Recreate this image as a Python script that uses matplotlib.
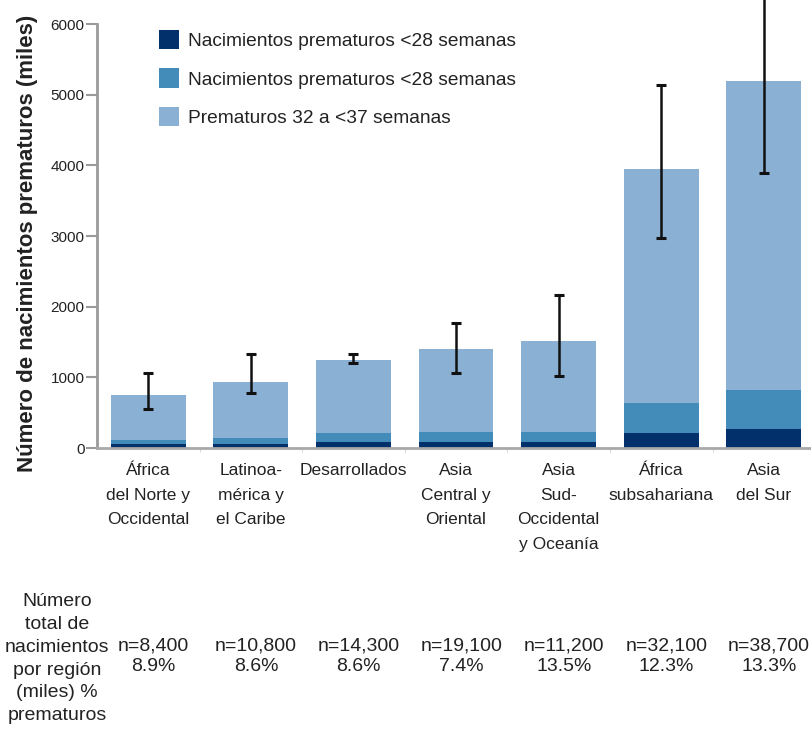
import numpy as np
import matplotlib
matplotlib.use("Agg")
import matplotlib.pyplot as plt
import matplotlib.transforms as mtransforms
from matplotlib.patches import Patch

plt.rcParams["font.family"] = ["Liberation Sans", "DejaVu Sans"]

# regions (x axis)
regiones = [
    "África\ndel Norte y\nOccidental",
    "Latinoa-\nmérica y\nel Caribe",
    "Desarrollados",
    "Asia\nCentral y\nOriental",
    "Asia\nSud-\nOccidental\ny Oceanía",
    "África\nsubsahariana",
    "Asia\ndel Sur",
]

# preterm births per region (thousands), by gestational age band
menos_28 = [55, 60, 85, 85, 85, 208, 265]
de_28_a_32 = [58, 86, 123, 146, 146, 424, 555]
de_32_a_37 = [642, 792, 1037, 1169, 1289, 3323, 4370]

# uncertainty range of the total
rango_bajo = [545, 780, 1200, 1057, 1023, 2975, 3895]
rango_alto = [1055, 1330, 1330, 1765, 2170, 5137, 6500]

# totals row under the chart
n_total = ["8,400", "10,800", "14,300", "19,100", "11,200", "32,100", "38,700"]
pct_prematuros = ["8.9%", "8.6%", "8.6%", "7.4%", "13.5%", "12.3%", "13.3%"]

etiquetas = [
    "Nacimientos prematuros <28 semanas",
    "Nacimientos prematuros <28 semanas",
    "Prematuros 32 a <37 semanas",
]
colores = ["#01306a", "#438cba", "#8ab0d4"]

x = np.arange(len(regiones))
a = np.array(menos_28)
b = np.array(de_28_a_32)
c = np.array(de_32_a_37)
total = a + b + c
yerr = [total - np.array(rango_bajo), np.array(rango_alto) - total]

fig = plt.figure(figsize=(8.11, 7.31), dpi=100)
ax = fig.add_axes([97 / 811, 283 / 731, 714 / 811, 448 / 731])

ancho = 0.73
ax.bar(x, a, ancho, color=colores[0])
ax.bar(x, b, ancho, bottom=a, color=colores[1])
ax.bar(x, c, ancho, bottom=a + b, color=colores[2])
ax.errorbar(x, total, yerr=yerr, fmt="none", ecolor="#111111",
            elinewidth=1.8, capsize=3.4, capthick=2.2, zorder=5)

ax.set_xlim(-0.5, 6.46)
ax.set_ylim(0, 6340)
ax.set_yticks(range(0, 6001, 1000))
ax.tick_params(axis="y", length=8, width=1.5, color="#9a9a9a",
               labelsize=11, pad=1, labelcolor="#222222")
ax.set_xticks(x)
ax.set_xticklabels(regiones, fontsize=12.5, linespacing=1.8,
                   color="#222222", va="top")
ax.tick_params(axis="x", length=0, pad=11)
ax.set_xticks(x[:-1] + 0.5, minor=True)
ax.tick_params(axis="x", which="minor", length=3, color="#d0d0d0")

for lado in ["top", "right"]:
    ax.spines[lado].set_visible(False)
ax.spines["left"].set_bounds(0, 6000)
ax.spines["left"].set_color("#9a9a9a")
ax.spines["left"].set_linewidth(2)
ax.spines["bottom"].set_color("#a8a8a8")
ax.spines["bottom"].set_linewidth(2)

ax.set_ylabel("Número de nacimientos prematuros (miles)", fontsize=16,
              fontweight="bold", color="#222222")
ax.yaxis.set_label_coords(-0.083, 2900 / 6340)

handles = [Patch(facecolor=col) for col in colores]
ax.legend(handles, etiquetas, loc="upper left", bbox_to_anchor=(0.062, 0.972),
          frameon=False, fontsize=13.8, handlelength=1.05, handleheight=1.2,
          handletextpad=0.5, labelspacing=0.95, labelcolor="#222222")

# totals row: header on the left, one column per region
fig.text(57 / 811, 0.099,
         "Número\ntotal de\nnacimientos\npor región\n(miles) %\nprematuros",
         ha="center", va="center", fontsize=14, linespacing=1.45,
         color="#222222")
trans = mtransforms.blended_transform_factory(ax.transData, fig.transFigure)
for xi, n, p in zip(x, n_total, pct_prematuros):
    ax.text(xi + 0.05, 0.1026, f"n={n}\n{p}", transform=trans, ha="center",
            va="center", fontsize=14, linespacing=1.3, color="#222222",
            clip_on=False)

fig.savefig("out.png", dpi=100)
